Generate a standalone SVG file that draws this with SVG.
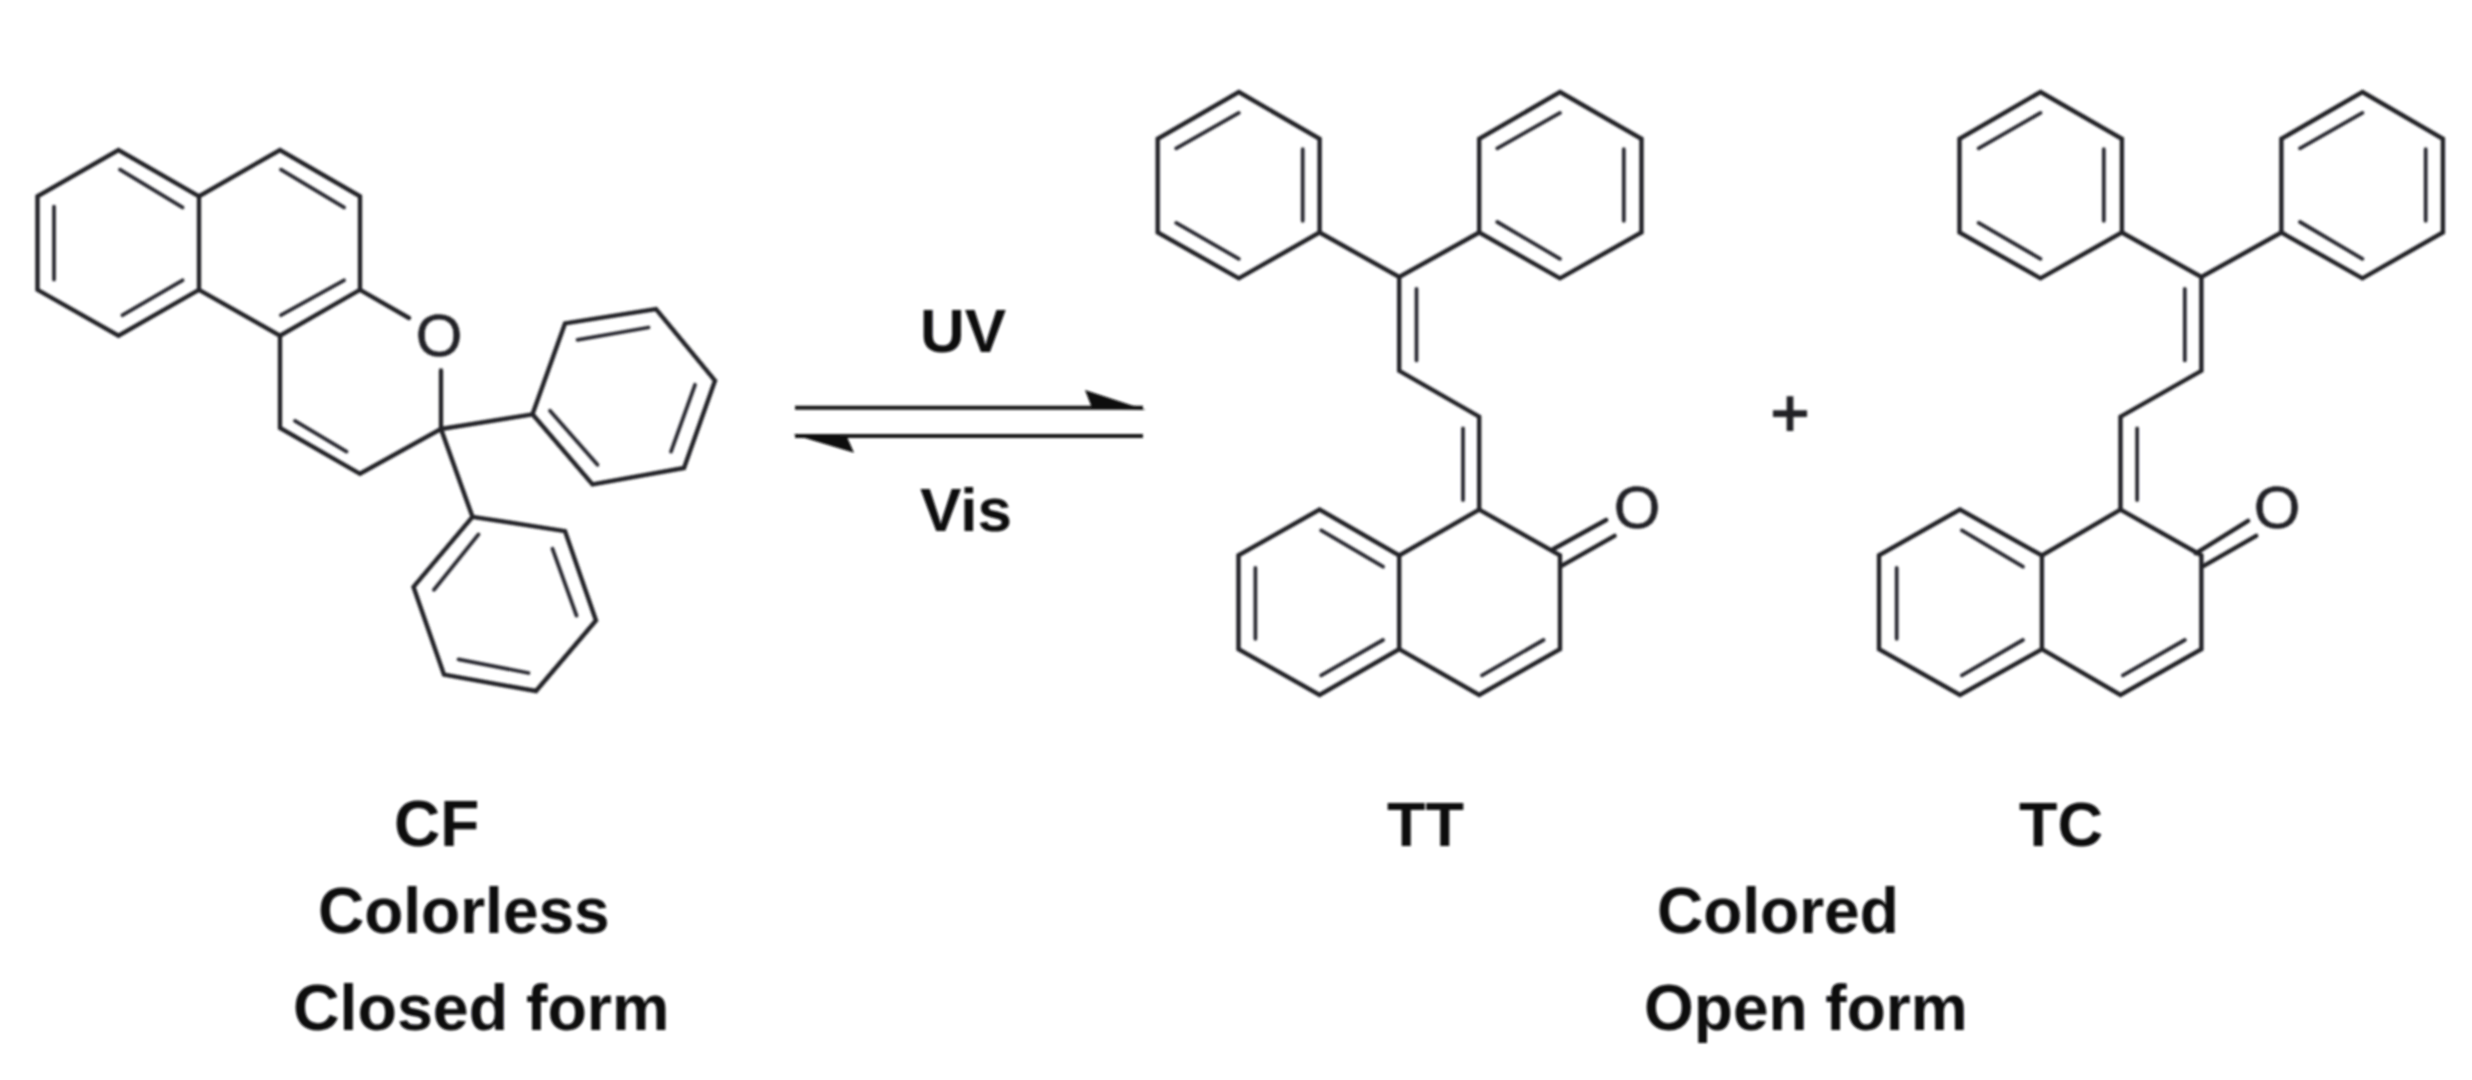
<svg xmlns="http://www.w3.org/2000/svg" width="2472" height="1080" viewBox="0 0 2472 1080">
<style>
.b{fill:none;stroke:#232328;stroke-width:4.4;stroke-linejoin:miter;stroke-linecap:round}
.i{fill:none;stroke:#2a2a31;stroke-width:3.8;stroke-linecap:round}
.t{font-family:"Liberation Sans",Arial,sans-serif;font-weight:700;font-size:64px;fill:#0a0a0e}
.o{font-family:"Liberation Sans",Arial,sans-serif;font-size:60px;fill:#232328;stroke:#232328;stroke-width:.7;text-anchor:middle}
.p{font-size:66px;stroke-width:2}
.a{fill:none;stroke:#161616;stroke-width:4}
.h{fill:#0a0a0a;stroke:none}
.s{filter:url(#soft)}
</style>
<defs><filter id="soft" x="-2%" y="-2%" width="104%" height="104%"><feGaussianBlur stdDeviation="0.9"/></filter></defs>
<rect width="2472" height="1080" fill="#fff"/>
<g id="connectors" class="s">
<path class="a" d="M795 407.7H1143"/>
<path class="h" d="M1146 410L1085 390L1092 408Z"/>
<path class="a" d="M795 436H1143"/>
<path class="h" d="M793 434.5L854 452.7L847 437Z"/>
</g>
<g id="CF" class="s">
<path class="b" d="M199 196.3L118.5 150L37.5 196.3V289.8L118.5 335.7L199 289.8V196.3L280 150L360 196.3V289.8L280 335.7L199 289.8"/>
<path class="b" d="M360 289.8L409 318M441 370.5V429L360 473.8L280 427.9V335.7"/>
<path class="b" d="M441 429L532.5 414.3M441 429L472.5 516.8"/>
<path class="b" d="M532.5 414.3L565 323.4L656 309L715 380.7L684 468L592.5 484.4Z"/>
<path class="b" d="M472.5 516.8L565 531.1L596 620.5L536 691L444 674.6L413.5 586.9Z"/>
<path class="i" d="M120 169.7L182.5 207.4M281 169.7L344 207.4M344 280.3L281 315.2M182.5 280.3L122.5 315.2M54 206.6V279.5M295 420.9L346.5 451.6"/>
<path class="i" d="M577.5 339.8L648.5 327.5M695 384.8L671 451.6M597.5 464.8L550 410.7"/>
<path class="i" d="M552.5 548.8L576.5 615.6M528.5 673L458.5 659.4M434 589.8L478.5 534.4"/>
<text class="o" x="439" y="356">O</text>
<text class="t" x="394" y="846">CF</text>
<text class="t" x="318" y="933">Colorless</text>
<text class="t" x="293" y="1030" style="font-size:64.5px">Closed form</text>
</g>
<g id="UV" class="s"><text class="t" x="920" y="352" style="font-size:62px">UV</text></g>
<g id="Vis" class="s"><text class="t" x="920" y="531" style="font-size:62px">Vis</text></g>
<g id="TT" class="s">
<path class="b" d="M1238.8 92L1319.6 138.8V232.5L1238.8 278.3L1157.7 232.5V138.8Z"/>
<path class="b" d="M1560 92L1641.5 138.8V232.5L1560 278.3L1479.2 232.5V138.8Z"/>
<path class="b" d="M1319.6 232.5L1399.2 277L1479.2 232.5M1399.2 277V370.8L1479.2 416.7V509.6"/>
<path class="b" d="M1479.2 509.6L1399.2 555.4L1319.6 509.6L1238.5 555.4V649.2L1319.6 695L1399.2 649.2V555.4M1399.2 649.2L1479.2 695L1560 649.2V555.4L1479.2 509.6"/>
<path class="i" d="M1176.2 148.3L1238.8 112.9M1302.7 149.2V220.8M1176.2 222.9L1238.8 258.8M1497.3 148.3L1560 112.9M1623.8 149.2V220.8M1497.3 222L1560 258.8"/>
<path class="i" d="M1416.5 288.8V360.4M1463 428.3V500M1321.2 530.4L1383 566.7M1255.4 567.9V638.8M1321.2 675.4L1383 640M1482 675.4L1543.5 640"/>
<path class="b" d="M1553 549.2L1606.2 520M1561.5 565.8L1614.6 535.8"/>
<text class="o" x="1637" y="528">O</text>
<text class="t" x="1387" y="846" style="font-size:63px">TT</text>
</g>
<g id="plus" class="s"><text class="o p" x="1790" y="436">+</text></g>
<g id="TC" class="s">
<path class="b" d="M2040.5 92L2121.9 138.8V232.5L2040.5 278.3L1959.5 232.5V138.8Z"/>
<path class="b" d="M2362.4 92L2442.9 138.8V232.5L2362.4 278.3L2281.4 232.5V138.8Z"/>
<path class="b" d="M2121.9 232.5L2201.4 277L2281.4 232.5M2201.4 277V370.8L2120.5 416.7V509.6"/>
<path class="b" d="M2120.5 509.6L2041.9 555.4L1960 509.6L1879 555.4V649.2L1960 695L2041.9 649.2V555.4M2041.9 649.2L2120.5 695L2201.4 649.2V555.4L2120.5 509.6"/>
<path class="i" d="M1978.6 148.3L2040.5 112.9M2103.8 149.2V220.8M1978.6 222.9L2040.5 258.8M2300 148.3L2362.4 112.9M2425.7 149.2V220.8M2300 222L2362.4 258.8"/>
<path class="i" d="M2184.8 288.8V360.4M2137.1 428.3V500M1961.9 530.4L2022.9 566.7M1896.7 567.9V638.8M1961.9 675.4L2022.9 640M2122.9 675.4L2184.8 640"/>
<path class="b" d="M2195.7 553.3L2248.1 520.8M2203.8 565.8L2256.2 535.8"/>
<text class="o" x="2277" y="528">O</text>
<text class="t" x="2019" y="846" style="font-size:63px">TC</text>
</g>
<g id="open-form-labels" class="s">
<text class="t" x="1657" y="933">Colored</text>
<text class="t" x="1644" y="1030">Open form</text>
</g>
</svg>
